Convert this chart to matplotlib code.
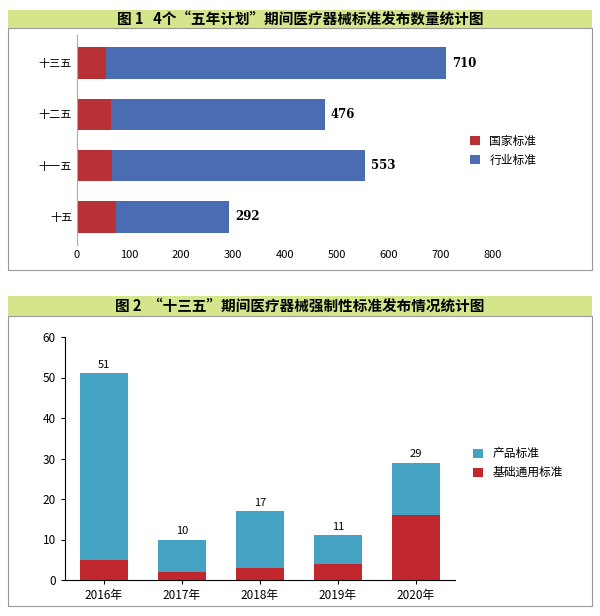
import matplotlib.pyplot as plt
from matplotlib.patches import Rectangle

plt.rcParams['font.family'] = ['Noto Sans CJK SC', 'DejaVu Sans']

# chart 1
plans = ['十五', '十一五', '十二五', '十三五']
national = [75, 68, 65, 55]
totals1 = [292, 553, 476, 710]
industry = [t - n for t, n in zip(totals1, national)]

# chart 2
years = ['2016年', '2017年', '2018年', '2019年', '2020年']
basic = [5, 2, 3, 4, 16]
totals2 = [51, 10, 17, 11, 29]
product = [t - b for t, b in zip(totals2, basic)]

fig = plt.figure(figsize=(6, 6.16), dpi=100)
W, H = 600, 616

def box(x0, y0, x1, y1, **kw):
    fig.patches.append(Rectangle((x0 / W, 1 - y1 / H), (x1 - x0) / W, (y1 - y0) / H,
                                 transform=fig.transFigure, figure=fig, zorder=-5, **kw))

green = '#d5e58c'
box(8, 10, 592, 28, facecolor=green, edgecolor='none')
box(8, 28, 592, 270, facecolor='white', edgecolor='#999999', lw=0.8)
fig.text(0.5, 1 - 19 / H, '图 1   4个“五年计划”期间医疗器械标准发布数量统计图',
         ha='center', va='center', fontsize=10.5, fontweight='bold')
box(8, 296, 592, 316, facecolor=green, edgecolor='none')
box(8, 316, 592, 606, facecolor='white', edgecolor='#999999', lw=0.8)
fig.text(0.5, 1 - 306 / H, '图 2  “十三五”期间医疗器械强制性标准发布情况统计图',
         ha='center', va='center', fontsize=10.5, fontweight='bold')

red, blue = '#b83235', '#4a6cb3'
ax = fig.add_axes([77 / W, 1 - 245 / H, 416 / W, 210 / H])
ax.patch.set_alpha(0)
y = range(len(plans))
ax.barh(y, national, height=0.62, color=red, label='国家标准')
ax.barh(y, industry, left=national, height=0.62, color=blue, label='行业标准')
for i, t in enumerate(totals1):
    ax.text(t + 12, i, str(t), va='center', fontsize=8.5, fontweight='bold',
            family='DejaVu Serif')
ax.set_xlim(0, 800)
ax.set_ylim(-0.55, 3.55)
ax.set_yticks(list(y))
ax.set_yticklabels(plans, fontsize=8.5)
ax.set_xticks(range(0, 801, 100))
ax.tick_params(labelsize=8, length=0)
for s in ['top', 'right', 'bottom']:
    ax.spines[s].set_visible(False)
ax.spines['left'].set_color('#aaaaaa')
ax.legend(loc='center left', bbox_to_anchor=(0.92, 0.45), frameon=False, fontsize=8.5,
          handlelength=0.8, handleheight=0.8)

red2, teal = '#c0282d', '#44a3c3'
ax2 = fig.add_axes([65 / W, 1 - 580 / H, 390 / W, 243 / H])
ax2.patch.set_alpha(0)
x = range(len(years))
ax2.bar(x, basic, width=0.62, color=red2, label='基础通用标准')
ax2.bar(x, product, bottom=basic, width=0.62, color=teal, label='产品标准')
for i, t in enumerate(totals2):
    ax2.text(i, t + 0.8, str(t), ha='center', va='bottom', fontsize=8)
ax2.set_ylim(0, 60)
ax2.set_xlim(-0.5, 4.5)
ax2.set_xticks(list(x))
ax2.set_xticklabels(years, fontsize=8.5)
ax2.set_yticks(range(0, 61, 10))
ax2.tick_params(labelsize=8.5, length=3)
for s in ['top', 'right']:
    ax2.spines[s].set_visible(False)
h, l = ax2.get_legend_handles_labels()
ax2.legend(h[::-1], l[::-1], loc='center left', bbox_to_anchor=(1.02, 0.48), frameon=False,
           fontsize=8.5, handlelength=0.8, handleheight=0.8)

fig.savefig('out.png', dpi=100)
